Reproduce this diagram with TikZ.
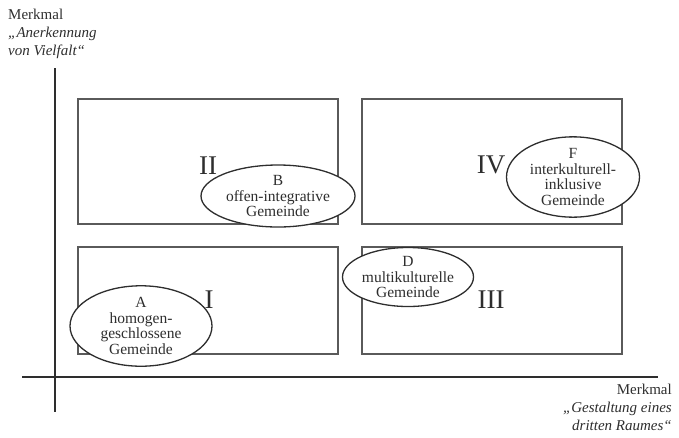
\documentclass[tikz,border=0pt]{standalone}
\usepackage{fontspec}
\setmainfont{Liberation Serif}
\usepackage{xcolor}
\usetikzlibrary{shapes.geometric,positioning}

\definecolor{linegray}{HTML}{5A5A5A}
\definecolor{textgray}{HTML}{2E2E2E}

\tikzset{
    quadrant/.style={draw=linegray, line width=1.1pt, minimum width=260pt, minimum height=125pt, inner sep=0pt},
    gemeinde/.style={draw=textgray, line width=1.3pt, ellipse, inner sep=0pt, align=center,
        font=\fontsize{15.5}{15.5}\selectfont, text=textgray},
    numeral/.style={font=\fontsize{27}{27}\selectfont, text=textgray, inner sep=0pt},
    axislabel/.style={font=\fontsize{15}{18}\selectfont, text=textgray, inner sep=0pt},
    axis/.style={draw=textgray, line width=1.6pt}
}

\begin{document}
\begin{tikzpicture}[x=1pt, y=-1pt]
    \useasboundingbox (0,0) rectangle (679,437);

    % Axes
    \coordinate (ytop) at (55,68);
    \coordinate (ybot) at (55,412);
    \coordinate (xleft) at (22,377);
    \coordinate (xright) at (658,377);
    \draw [axis] (ytop) -- (ybot);
    \draw [axis] (xleft) -- (xright);

    % Axis labels
    \node[axislabel, anchor=north west, align=left] (ylabel) at (8,9)
        {Merkmal\\\textit{„Anerkennung}\\\textit{von Vielfalt“}};
    \node[axislabel, anchor=north east, align=right] (xlabel) at (672,384)
        {Merkmal\\\textit{„Gestaltung eines}\\\textit{dritten Raumes“}};

    % Quadrants
    \node[quadrant] (q2) at (208,161.5) {};
    \node[quadrant] (q4) at (492,161.5) {};
    \node[quadrant, minimum height=107pt] (q1) at (208,300.5) {};
    \node[quadrant, minimum height=107pt] (q3) at (492,300.5) {};

    % Roman numerals
    \node[numeral] (n1) at (209,300) {I};
    \node[numeral] (n2) at (208,166) {II};
    \node[numeral] (n3) at (491,300) {III};
    \node[numeral] (n4) at (491,165) {IV};

    % Types of congregations
    \node[gemeinde, fill=white, minimum width=142pt, minimum height=72pt] (ga) at (141,326)
        {A\\homogen-\\geschlossene\\Gemeinde};
    \node[gemeinde, fill=white, minimum width=154pt, minimum height=62pt] (gb) at (278,196)
        {B\\offen-integrative\\Gemeinde};
    \node[gemeinde, fill=white, minimum width=131pt, minimum height=59pt] (gd) at (408,277)
        {D\\multikulturelle\\Gemeinde};
    \node[gemeinde, fill=white, minimum width=133pt, minimum height=71pt] (gf) at (573,177)
        {F\\interkulturell-\\inklusive\\Gemeinde};
\end{tikzpicture}
\end{document}
